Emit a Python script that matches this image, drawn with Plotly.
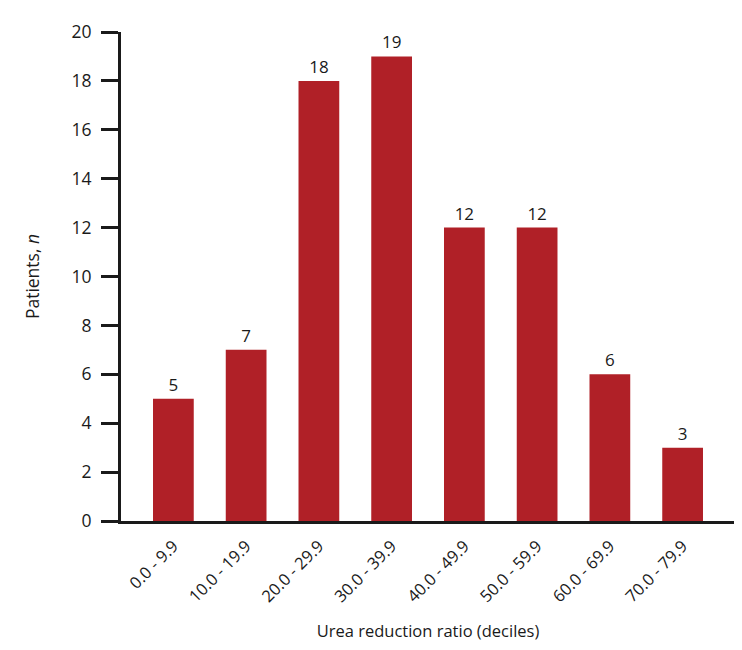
import plotly.graph_objects as go

categories = ["0.0 - 9.9", "10.0 - 19.9", "20.0 - 29.9", "30.0 - 39.9",
              "40.0 - 49.9", "50.0 - 59.9", "60.0 - 69.9", "70.0 - 79.9"]
patients = [5, 7, 18, 19, 12, 12, 6, 3]
y_ticks = [0, 2, 4, 6, 8, 10, 12, 14, 16, 18, 20]

font_family = "Open Sans, Noto Sans, sans-serif"

fig = go.Figure(go.Bar(
    x=categories, y=patients,
    marker=dict(color="#B02027", line=dict(width=0)),
    text=[str(v) for v in patients], textposition="outside",
    textfont=dict(size=17, color="#1a1a1a", family=font_family),
    cliponaxis=False,
))

fig.update_layout(
    width=742, height=650,
    margin=dict(l=113, r=15, t=24, b=137, autoexpand=False),
    paper_bgcolor="white", plot_bgcolor="white",
    bargap=0.44,
    showlegend=False,
    font=dict(family=font_family, color="#1a1a1a"),
    xaxis=dict(
        type="category", range=[-0.72, 7.72], automargin=False,
        showline=True, linecolor="#1a1a1a", linewidth=3,
        ticks="", tickangle=-45, tickfont=dict(size=16.5),
        ticklabelstandoff=6,
        showgrid=False, zeroline=False,
        title=dict(text="Urea reduction ratio (deciles)", font=dict(size=16.5), standoff=20),
    ),
    yaxis=dict(
        range=[0, 20], tickvals=y_ticks, automargin=False,
        showline=True, linecolor="#1a1a1a", linewidth=3,
        ticks="outside", ticklen=17, tickwidth=2.5, tickcolor="#1a1a1a",
        tickfont=dict(size=17.5), ticklabelstandoff=6,
        showgrid=False, zeroline=False,
        title=dict(text="Patients, <i>n</i>", font=dict(size=17.5), standoff=28),
    ),
)

fig.write_html("out.html")
